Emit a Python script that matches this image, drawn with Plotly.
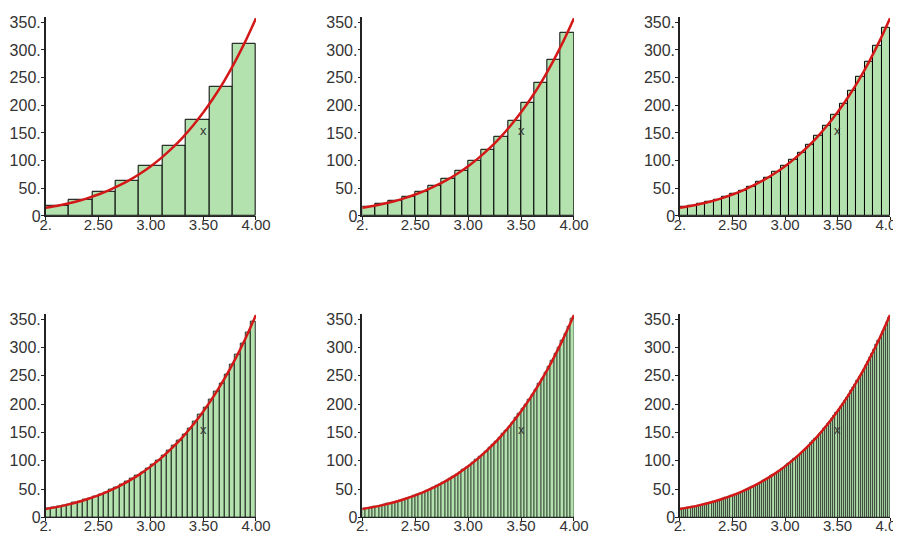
import plotly.graph_objects as go
from plotly.subplots import make_subplots

# x interval of every panel
X_MIN, X_MAX = 2.0, 4.0

# red curve
CURVE_X = [2.0, 2.1, 2.2, 2.3, 2.4, 2.5, 2.6, 2.7, 2.8, 2.9, 3.0,
           3.1, 3.2, 3.3, 3.4, 3.5, 3.6, 3.7, 3.8, 3.9, 4.0]
CURVE_Y = [14.7, 18.0, 22.0, 26.7, 32.3, 38.8, 46.4, 55.1, 65.2, 76.8, 90.0,
           105.0, 122.1, 141.3, 163.0, 187.3, 214.5, 244.8, 278.6, 316.0, 357.3]

# box heights, one list per panel (left to right, top to bottom)
BARS_9 = [18.4, 28.5, 42.9, 62.9, 90.0, 126.2, 173.5, 234.4, 311.6]

BARS_16 = [16.7, 21.5, 27.4, 34.6, 43.4, 54.0, 66.6, 81.5,
           99.2, 119.8, 143.9, 171.8, 204.0, 240.9, 283.0, 331.0]

BARS_25 = [15.9, 18.8, 22.0, 25.7, 30.0, 34.8, 40.2, 46.4, 53.3, 61.0,
           69.7, 79.3, 90.0, 101.9, 115.0, 129.5, 145.5, 163.0, 182.2, 203.3,
           226.3, 251.3, 278.6, 308.2, 340.3]

BARS_40 = [15.5, 17.1, 19.0, 21.0, 23.1, 25.5, 28.1, 30.8, 33.8, 37.1,
           40.6, 44.4, 48.4, 52.8, 57.5, 62.6, 68.0, 73.7, 79.9, 86.5,
           93.6, 101.1, 109.1, 117.6, 126.7, 136.3, 146.5, 157.4, 168.8, 181.0,
           193.8, 207.4, 221.8, 237.0, 252.9, 269.8, 287.6, 306.3, 325.9, 346.6]

BARS_64 = [15.2, 16.2, 17.2, 18.4, 19.6, 20.8, 22.2, 23.6,
           25.0, 26.6, 28.2, 29.9, 31.8, 33.6, 35.6, 37.7,
           39.9, 42.2, 44.6, 47.1, 49.8, 52.5, 55.4, 58.4,
           61.6, 64.9, 68.3, 71.9, 75.6, 79.5, 83.6, 87.8,
           92.2, 96.8, 101.6, 106.6, 111.7, 117.1, 122.7, 128.5,
           134.5, 140.7, 147.2, 153.9, 160.9, 168.1, 175.6, 183.4,
           191.4, 199.7, 208.3, 217.2, 226.5, 236.0, 245.9, 256.1,
           266.6, 277.5, 288.7, 300.3, 312.3, 324.7, 337.4, 350.6]

BARS_100 = [15.0, 15.6, 16.3, 17.0, 17.7, 18.4, 19.2, 19.9, 20.8, 21.6,
            22.5, 23.4, 24.3, 25.3, 26.2, 27.3, 28.3, 29.4, 30.6, 31.7,
            32.9, 34.2, 35.4, 36.8, 38.1, 39.5, 41.0, 42.4, 44.0, 45.6,
            47.2, 48.9, 50.6, 52.4, 54.2, 56.1, 58.0, 60.0, 62.0, 64.2,
            66.3, 68.5, 70.8, 73.2, 75.6, 78.0, 80.6, 83.2, 85.9, 88.6,
            91.4, 94.3, 97.3, 100.3, 103.5, 106.7, 110.0, 113.3, 116.8, 120.3,
            123.9, 127.6, 131.4, 135.3, 139.3, 143.4, 147.6, 151.9, 156.3, 160.8,
            165.3, 170.0, 174.8, 179.8, 184.8, 189.9, 195.2, 200.5, 206.1, 211.7,
            217.4, 223.3, 229.3, 235.4, 241.7, 248.1, 254.6, 261.3, 268.1, 275.1,
            282.2, 289.4, 296.8, 304.4, 312.1, 319.9, 328.0, 336.1, 344.5, 353.0]

PANELS = [BARS_9, BARS_16, BARS_25, BARS_40, BARS_64, BARS_100]

X_TICKS = [2.0, 2.5, 3.0, 3.5, 4.0]
X_TICK_TEXT = ["2.", "2.50", "3.00", "3.50", "4.00"]
Y_TICKS = [0, 50, 100, 150, 200, 250, 300, 350]
Y_TICK_TEXT = ["0", "50.", "100.", "150.", "200.", "250.", "300.", "350."]

# where the "x" axis label sits inside each panel
LABEL_POS = (3.5, 155)

BAR_FILL = "#b3e2ae"
CURVE_COLOR = "#d41818"
TEXT_COLOR = "#333333"

# page body has an 8px margin; the figure runs to the window's right/bottom edge
FIG_W, FIG_H = 893, 526

# panel placement (paper fractions)
X_DOMAINS = [[0.0422, 0.2777], [0.3968, 0.6338], [0.7525, 0.9877]]
Y_DOMAINS = [[0.6046, 0.9833], [0.0317, 0.4192]]

fig = make_subplots(rows=2, cols=3)

for idx, heights in enumerate(PANELS):
    row, col = idx // 3 + 1, idx % 3 + 1
    n = len(heights)
    h = (X_MAX - X_MIN) / n
    # thinner outlines where the boxes get narrow
    edge_w = 1.0 if n <= 25 else (0.8 if n <= 40 else 0.6)

    # midpoint boxes
    fig.add_trace(
        go.Bar(y=heights, x0=X_MIN + h / 2, dx=h, width=h,
               marker=dict(color=BAR_FILL, line=dict(color="black", width=edge_w)),
               showlegend=False, hoverinfo="skip"),
        row=row, col=col
    )
    # the function
    fig.add_trace(
        go.Scatter(x=CURVE_X, y=CURVE_Y, mode="lines",
                   line=dict(color=CURVE_COLOR, width=2.5, shape="spline"),
                   showlegend=False, hoverinfo="skip"),
        row=row, col=col
    )

    ax = "" if idx == 0 else str(idx + 1)
    fig.add_annotation(x=LABEL_POS[0], y=LABEL_POS[1], xref="x" + ax, yref="y" + ax,
                       text="x", showarrow=False,
                       font=dict(size=13, color=TEXT_COLOR))

    fig.update_xaxes(domain=X_DOMAINS[col - 1], range=[X_MIN, X_MAX],
                     tickvals=X_TICKS, ticktext=X_TICK_TEXT,
                     row=row, col=col)
    fig.update_yaxes(domain=Y_DOMAINS[row - 1], range=[0, 360],
                     tickvals=Y_TICKS, ticktext=Y_TICK_TEXT,
                     row=row, col=col)

fig.update_xaxes(automargin=False, showgrid=False, zeroline=False, showline=True,
                 linecolor="#222", linewidth=1, ticks="outside", ticklen=3,
                 tickcolor="#222", ticklabelstandoff=-8, ticklabeloverflow="allow",
                 tickfont=dict(size=15, color=TEXT_COLOR))
fig.update_yaxes(automargin=False, showgrid=False, zeroline=False, showline=True,
                 linecolor="#222", linewidth=1.5, ticks="outside", ticklen=3,
                 tickcolor="#222", ticklabelstandoff=-3, ticklabeloverflow="allow",
                 tickfont=dict(size=16, color=TEXT_COLOR))

fig.update_layout(
    width=FIG_W, height=FIG_H,
    margin=dict(l=0, r=0, t=0, b=0),
    plot_bgcolor="white", paper_bgcolor="white",
    bargap=0,
    font=dict(family="Arial, Liberation Sans, sans-serif", color=TEXT_COLOR),
)

fig.write_html("out.html")
